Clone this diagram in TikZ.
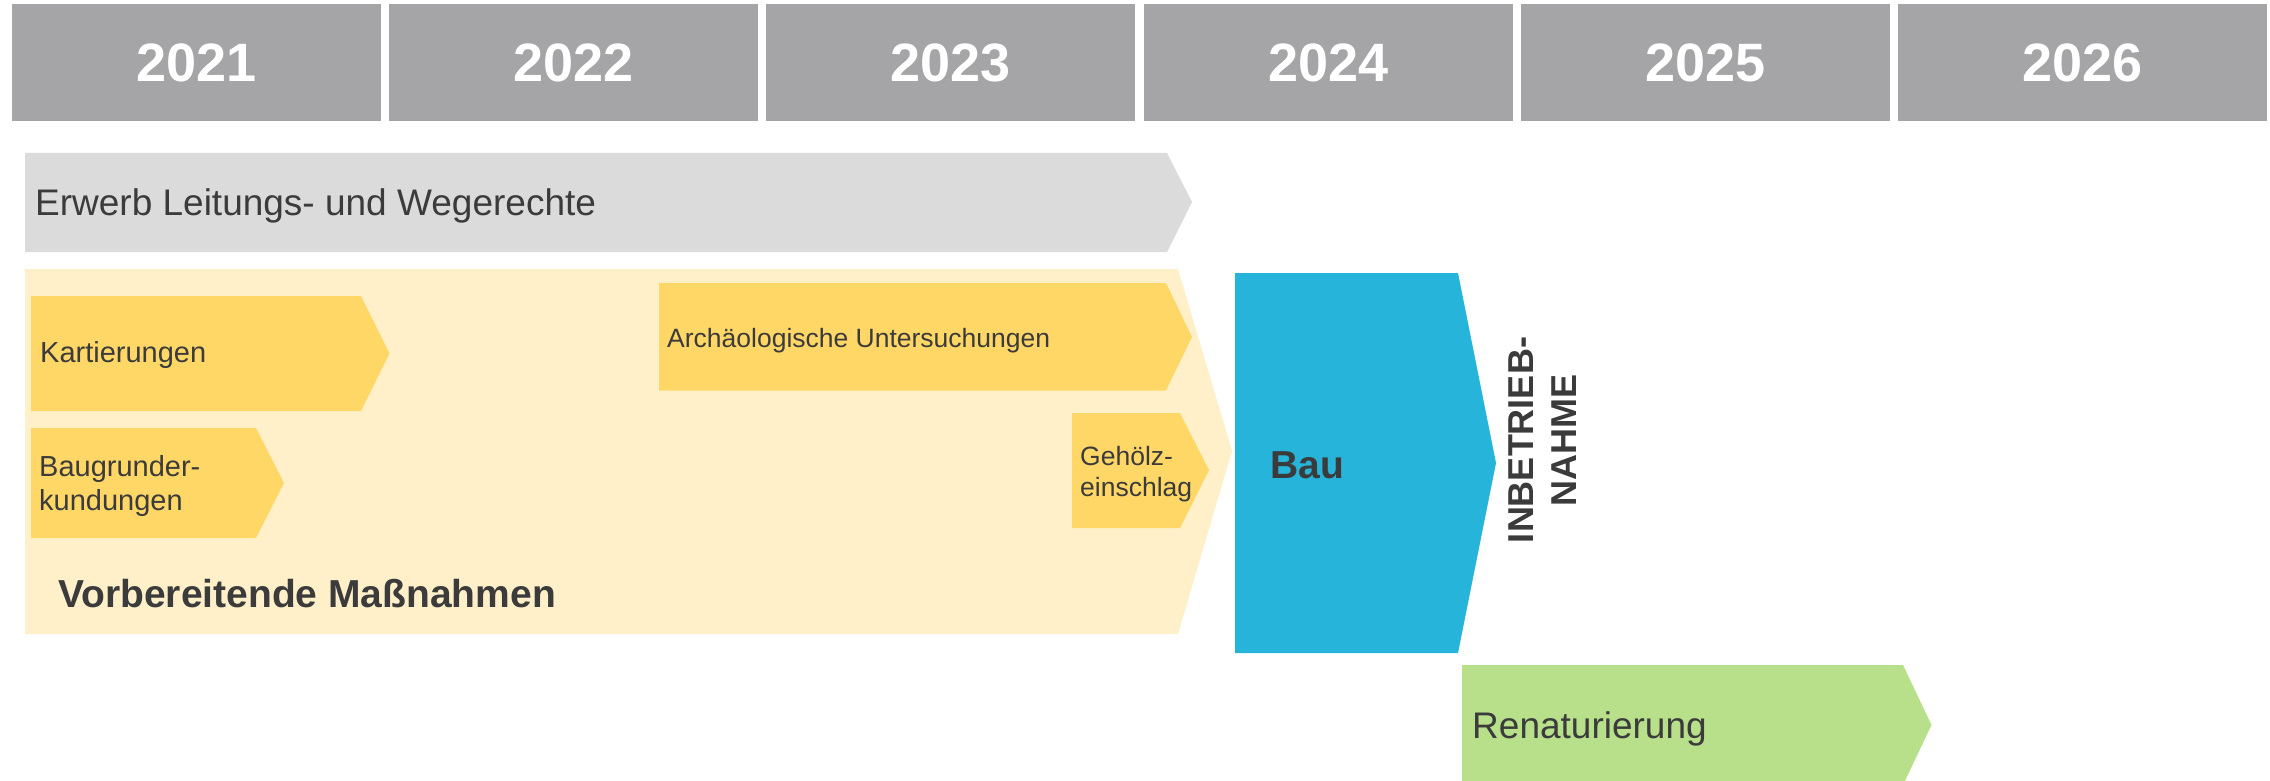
\documentclass[tikz,border=0pt]{standalone}
\usepackage{fontspec}
\setmainfont{Liberation Sans}
\definecolor{yeargray}{HTML}{A5A5A7}
\definecolor{rightsgray}{HTML}{DBDBDB}
\definecolor{prepyellow}{HTML}{FFF0C9}
\definecolor{taskyellow}{HTML}{FFD766}
\definecolor{baublue}{HTML}{27B4DA}
\definecolor{renatgreen}{HTML}{B8E08B}
\definecolor{txtgray}{HTML}{3B3B3B}
\begin{document}
\begin{tikzpicture}[x=1pt, y=-1pt,
	yearlabel/.style={text=white, inner sep=0pt, font=\bfseries\fontsize{54}{60}\selectfont},
	tasklabel/.style={text=txtgray, inner sep=0pt, anchor=base west, align=left},
	big/.style={font=\fontsize{37}{44}\selectfont},
	small/.style={font=\fontsize{29}{34}\selectfont},
	tiny/.style={font=\fontsize{26.5}{31.5}\selectfont},
	heavy/.style={font=\bfseries\fontsize{39}{44}\selectfont}]

	\useasboundingbox (0,0) rectangle (2270,781);

	% years
	\def \yw {369}
	\def \yp {377.2}
	\foreach \i/\yr in {0/2021,1/2022,2/2023,3/2024,4/2025,5/2026}{
		\fill[yeargray] (12+\i*\yp, 4) rectangle (12+\i*\yp+\yw, 121);
		\node[yearlabel] (y\yr) at (12+\i*\yp+\yw/2, 63) {\yr};
	}

	% Erwerb
	\fill[rightsgray] (25,153) -- (1167,153) -- (1192,202) -- (1167,252) -- (25,252) -- cycle;
	\node[tasklabel, big] (erwerb) at (35,215) {Erwerb Leitungs- und Wegerechte};

	% Vorbereitende Massnahmen
	\fill[prepyellow] (25,269) -- (1178,269) -- (1232,451) -- (1178,634) -- (25,634) -- cycle;
	\node[tasklabel, heavy] (vorb) at (58,607) {Vorbereitende Maßnahmen};

	\fill[taskyellow] (31,296) -- (361,296) -- (389.5,353.5) -- (361,411) -- (31,411) -- cycle;
	\node[tasklabel, small] (kart) at (40,362) {Kartierungen};

	\fill[taskyellow] (31,428) -- (256,428) -- (284,483) -- (256,538) -- (31,538) -- cycle;
	\node[tasklabel, small] (baugr) at (39,510) {Baugrunder-\\kundungen};

	\fill[taskyellow] (659,283) -- (1166,283) -- (1192,337) -- (1166,390.5) -- (659,390.5) -- cycle;
	\node[tasklabel, tiny] (archae) at (667,347) {Archäologische Untersuchungen};

	\fill[taskyellow] (1072,413) -- (1180,413) -- (1209,470) -- (1180,528) -- (1072,528) -- cycle;
	\node[tasklabel, tiny] (gehoelz) at (1080,496.5) {Gehölz-\\einschlag};

	% Bau
	\fill[baublue] (1235,273) -- (1458,273) -- (1496,463) -- (1458,653) -- (1235,653) -- cycle;
	\node[tasklabel, heavy] (bau) at (1270,478) {Bau};

	\node[text=txtgray, inner sep=0pt, rotate=90, align=center, font=\bfseries\fontsize{36}{43}\selectfont] (inbetrieb) at (1543,440) {INBETRIEB-\\NAHME};

	% Renaturierung
	\fill[renatgreen] (1462,665) -- (1903,665) -- (1931.5,725) -- (1903,785) -- (1462,785) -- cycle;
	\node[tasklabel, big] (renat) at (1472,738) {Renaturierung};

\end{tikzpicture}
\end{document}
